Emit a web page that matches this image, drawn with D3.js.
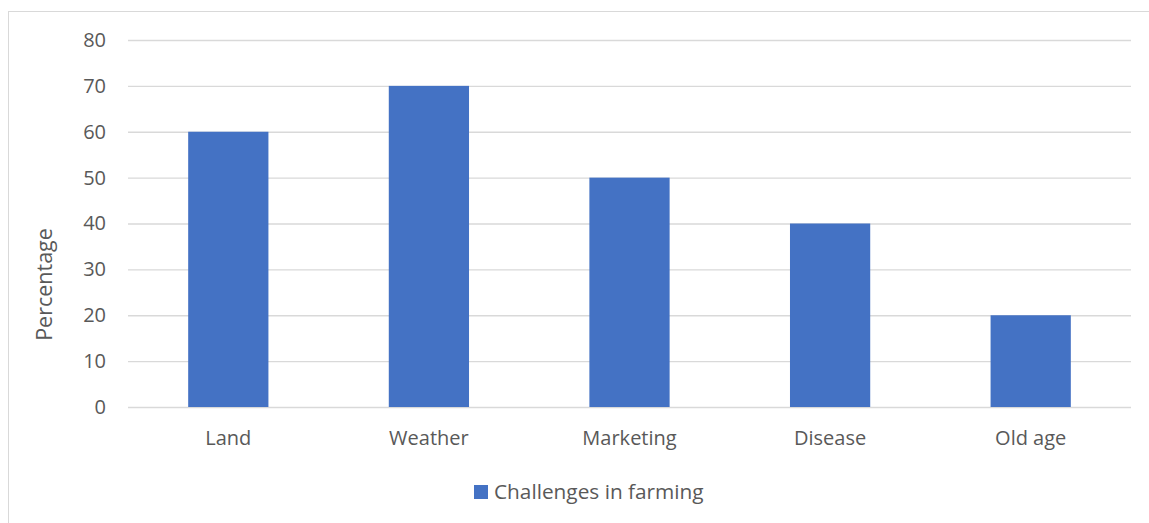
<!DOCTYPE html>
<html>
<head>
<meta charset="utf-8">
<script src="https://cdn.jsdelivr.net/npm/d3@7"></script>
<style>
  html, body { margin: 0; padding: 0; background: #fff; }
  svg { display: block; }
</style>
</head>
<body>
<svg id="chart" width="1149" height="523"></svg>
<script>
// Farming challenges survey
const categories = ["Land", "Weather", "Marketing", "Disease", "Old age"];
const values = [60, 70, 50, 40, 20];
const yTicks = [0, 10, 20, 30, 40, 50, 60, 70, 80];
const seriesName = "Challenges in farming";
const axisTitle = "Percentage";

const W = 1149, H = 523;
const margin = { left: 128, right: 18, top: 40, bottom: 116 };
const font = "'Open Sans', Lato, sans-serif";
const textColor = "#595959";
const barColor = "#4472C4";
const gridColor = "#d9d9d9";

const svg = d3.select("#chart");

// Chart frame
svg.append("rect")
  .attr("x", 8.5).attr("y", 11.5)
  .attr("width", W + 20).attr("height", H + 20)
  .attr("fill", "none").attr("stroke", "#d9d9d9").attr("stroke-width", 1);

const x = d3.scaleBand()
  .domain(categories)
  .range([margin.left, W - margin.right])
  .paddingInner(0.6)
  .paddingOuter(0.3);

const y = d3.scaleLinear()
  .domain([0, 80])
  .range([H - margin.bottom, margin.top]);

// Gridlines + y labels
const yAxis = d3.axisLeft(y)
  .tickValues(yTicks)
  .tickSize(-(W - margin.right - margin.left))
  .tickPadding(22);

const gy = svg.append("g")
  .attr("transform", `translate(${margin.left},0)`)
  .call(yAxis);
gy.select(".domain").remove();
gy.selectAll(".tick line").attr("stroke", gridColor).attr("stroke-width", 1.3);
gy.selectAll(".tick text")
  .attr("fill", textColor)
  .style("font-family", font)
  .style("font-size", "20px");

// Bars
svg.append("g").selectAll("rect")
  .data(categories.map((c, i) => ({ c, v: values[i] })))
  .join("rect")
  .attr("x", d => x(d.c))
  .attr("y", d => y(d.v))
  .attr("width", x.bandwidth())
  .attr("height", d => y(0) - y(d.v))
  .attr("fill", barColor);

// Category labels
const xAxis = d3.axisBottom(x).tickSize(0).tickPadding(24);
const gx = svg.append("g")
  .attr("transform", `translate(0,${y(0)})`)
  .call(xAxis);
gx.select(".domain").remove();
gx.selectAll(".tick text")
  .attr("fill", textColor)
  .style("font-family", font)
  .style("font-size", "20px");

// Y axis title
svg.append("text")
  .attr("transform", `translate(52,${(y(0) + y(80)) / 2 + 61}) rotate(-90)`)
  .attr("text-anchor", "middle")
  .attr("fill", textColor)
  .style("font-family", font)
  .style("font-size", "21.5px")
  .text(axisTitle);

// Legend
const legend = svg.append("g").attr("transform", "translate(474,485)");
legend.append("rect").attr("width", 14).attr("height", 14).attr("fill", barColor);
legend.append("text")
  .attr("x", 20).attr("y", 14)
  .attr("fill", textColor)
  .style("font-family", font)
  .style("font-size", "20.8px")
  .text(seriesName);
</script>
</body>
</html>
